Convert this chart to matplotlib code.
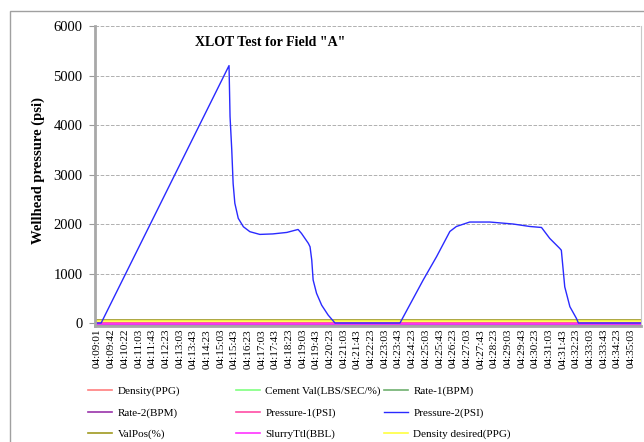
import matplotlib
matplotlib.use('agg')
import numpy as np
import matplotlib.pyplot as plt
from matplotlib.patches import Rectangle

# time axis labels (category axis in the original sheet)
time_labels = ['04:09:01', '04:09:42', '04:10:22', '04:11:03', '04:11:43', '04:12:23',
               '04:13:03', '04:13:43', '04:14:23', '04:15:03', '04:15:43', '04:16:23',
               '04:17:03', '04:17:43', '04:18:23', '04:19:03', '04:19:43', '04:20:23',
               '04:21:03', '04:21:43', '04:22:23', '04:23:03', '04:23:43', '04:24:23',
               '04:25:03', '04:25:43', '04:26:23', '04:27:03', '04:27:43', '04:28:23',
               '04:29:03', '04:29:43', '04:30:23', '04:31:03', '04:31:43', '04:32:23',
               '04:33:03', '04:33:43', '04:34:23', '04:35:03']

# Pressure-2 (PSI), seconds after 04:09:01
t_sec = [0, 12, 386, 389, 394, 398, 403, 413, 428, 447, 476, 514, 555, 588, 598,
         618, 623, 628, 632, 642, 657, 676, 696, 886, 954, 993, 1032, 1051, 1090,
         1149, 1217, 1266, 1300, 1324, 1353, 1358, 1368, 1383, 1402, 1408, 1590]
pressure2 = [0, 0, 5200, 4170, 3500, 2820, 2420, 2115, 1945, 1845, 1790, 1800, 1830,
             1890, 1810, 1610, 1540, 1270, 870, 600, 360, 160, 0, 0, 870, 1340, 1850,
             1950, 2040, 2040, 2000, 1950, 1930, 1710, 1510, 1470, 730, 330, 95, 0, 0]

# flat series lying along the bottom
flat_names = ['Density(PPG)', 'Cement Val(LBS/SEC/%)', 'Rate-1(BPM)',
              'Rate-2(BPM)', 'Pressure-1(PSI)', 'ValPos(%)',
              'SlurryTtl(BBL)', 'Density desired(PPG)']
flat_values = [10, -30, -30, -30, 0, 70, -15, 40]
flat_colors = ['#ff7f7f', '#80ff80', '#6fb06f', '#9933aa', '#ff4da6',
               '#a09a20', '#ff33ff', '#ffff40']

legend_rows = [['Density(PPG)', 'Cement Val(LBS/SEC/%)', 'Rate-1(BPM)'],
               ['Rate-2(BPM)', 'Pressure-1(PSI)', 'Pressure-2(PSI)'],
               ['ValPos(%)', 'SlurryTtl(BBL)', 'Density desired(PPG)']]


def secs(s):
    h, m, x = s.split(':')
    return int(h) * 3600 + int(m) * 60 + int(x)


def main():
    plt.rcParams['font.family'] = ['Liberation Serif', 'DejaVu Serif']

    fig = plt.figure(figsize=(6.44, 4.42), dpi=100)
    fig.patches.append(Rectangle((10 / 644, -0.1), 1.0, 1.1 - 11 / 442,
                                 transform=fig.transFigure, fill=False,
                                 edgecolor='#a0a0a0', linewidth=1.0))

    ax = fig.add_axes([95 / 644, 1 - 325.5 / 442, 546 / 644, 299.5 / 442])

    handles = {}
    t0, t1 = t_sec[0] - 6, t_sec[-1] + 1
    for name, val, col in zip(flat_names, flat_values, flat_colors):
        h, = ax.plot([t0, t1], [val, val], color=col, lw=1.2, label=name)
        handles[name] = h
    h, = ax.plot(t_sec, pressure2, color='#2a2aff', lw=1.0, label='Pressure-2(PSI)')
    handles['Pressure-2(PSI)'] = h

    ax.set_xlim(-6, 1591)
    ax.set_ylim(-50, 6000)

    tick_pos = [secs(s) - secs(time_labels[0]) for s in time_labels]
    ax.set_xticks(tick_pos)
    ax.set_xticklabels(time_labels, rotation=90, fontsize=8)
    ax.tick_params(axis='x', length=0, pad=2.5)

    ax.set_yticks(range(0, 6001, 1000))
    ax.tick_params(axis='y', labelsize=10.5, length=4, color='#999999', pad=5)
    ax.yaxis.grid(True, linestyle='--', color='#b0b0b0', linewidth=0.7)
    ax.set_axisbelow(True)

    ax.spines['right'].set_color('#c8c8c8')
    ax.spines['right'].set_linewidth(0.8)
    ax.spines['top'].set_visible(False)
    for s in ['left', 'bottom']:
        ax.spines[s].set_color('#a8a8a8')
        ax.spines[s].set_linewidth(2.0)

    fig.text(38 / 644, 1 - 171 / 442, 'Wellhead pressure (psi)', rotation=90,
             ha='center', va='center', fontsize=10.5, fontweight='bold')

    fig.text(270 / 644, 1 - 43 / 442, 'XLOT Test for Field "A"', ha='center', va='center',
             fontsize=10, fontweight='bold')

    # one legend per column so the columns sit at fixed positions
    col_x = [78, 226, 374]
    for c in range(3):
        hs = [handles[legend_rows[r][c]] for r in range(3)]
        fig.legend(hs, [h.get_label() for h in hs], ncol=1,
                   loc='upper left', bbox_to_anchor=(col_x[c] / 644, 1 - 376 / 442),
                   frameon=False, fontsize=8, handlelength=2.2, handletextpad=0.45,
                   labelspacing=1.05)

    plt.savefig('out.png', dpi=100)
    plt.close('all')


main()
